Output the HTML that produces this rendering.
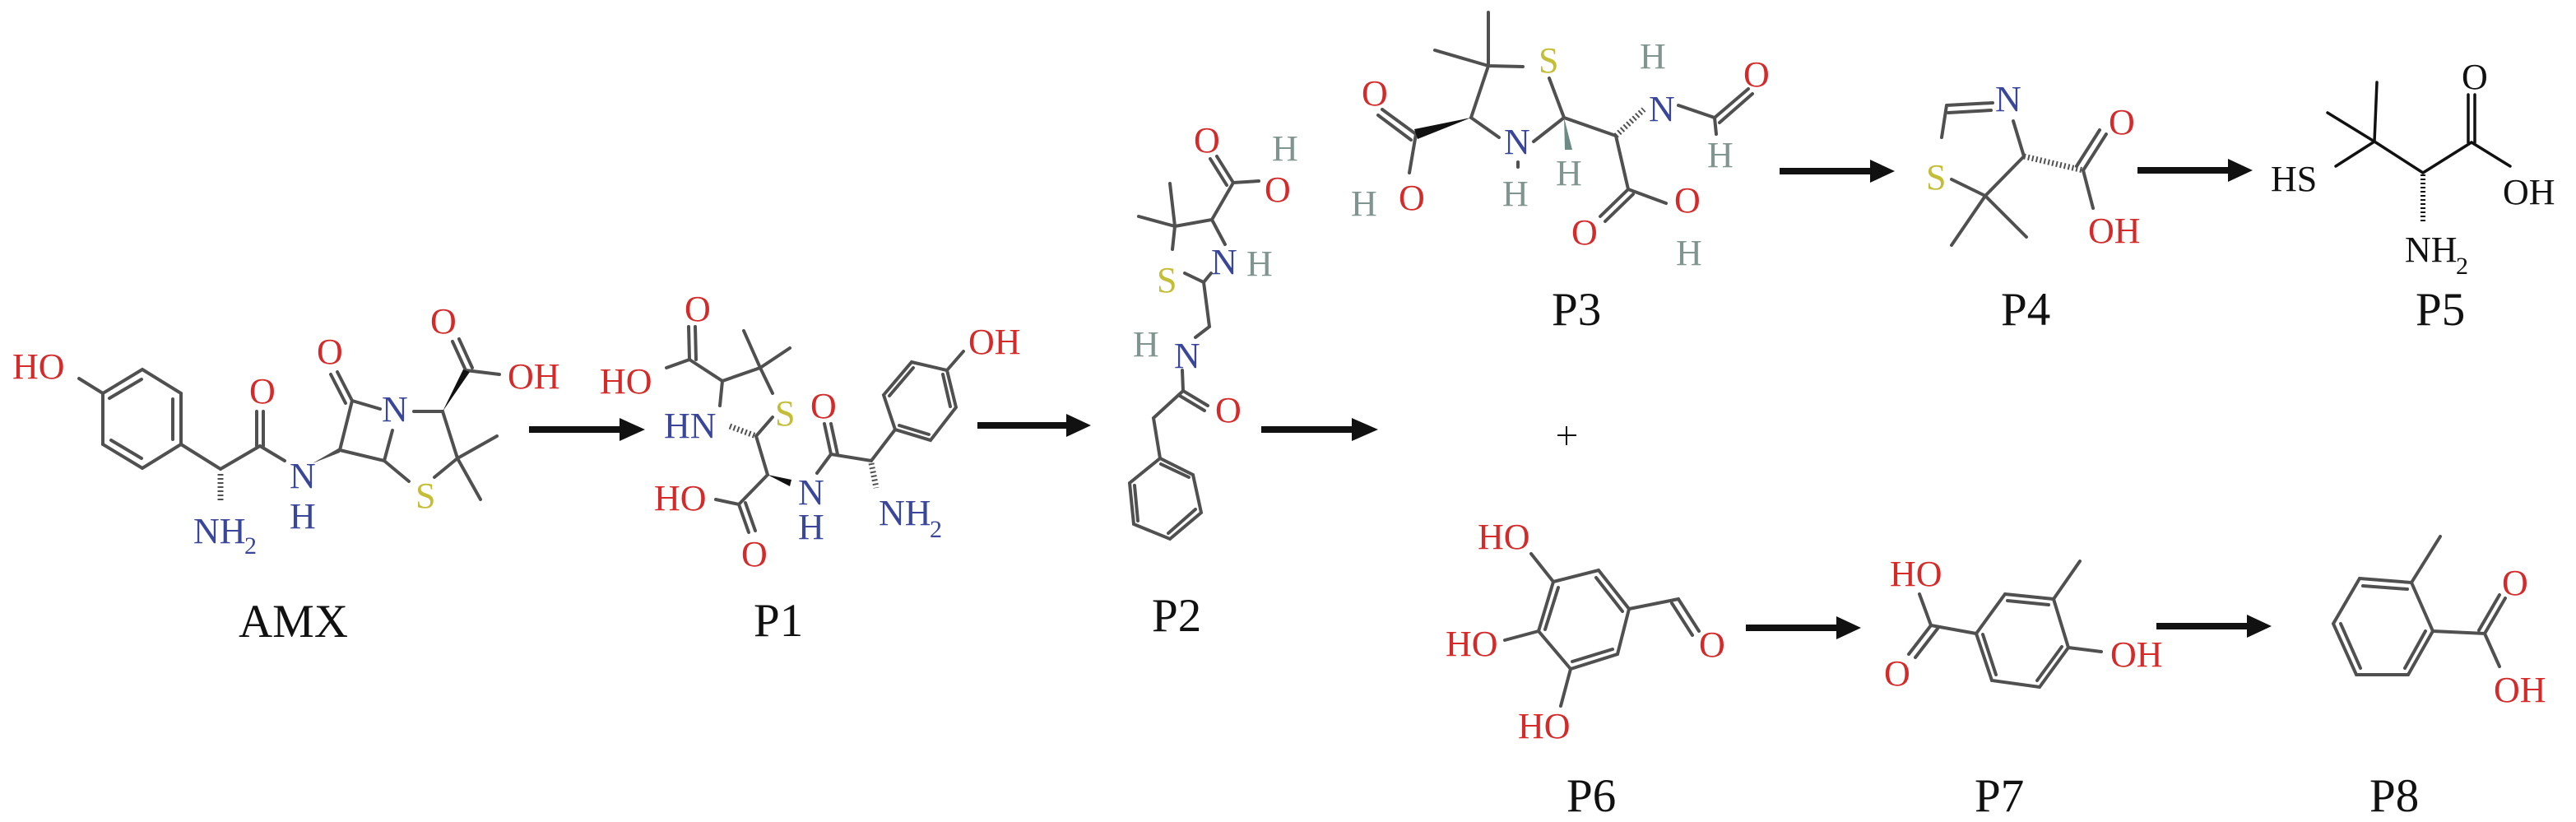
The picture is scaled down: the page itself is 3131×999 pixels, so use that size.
<!DOCTYPE html>
<html><head><meta charset="utf-8"><style>
html,body{margin:0;padding:0;background:#fff}
svg{display:block}
.b{stroke:#505050;stroke-width:4;stroke-linecap:round;fill:none}
.k{stroke:#111;stroke-width:3.5;stroke-linecap:round;fill:none}
.hs{stroke:#505050;stroke-width:7;stroke-dasharray:2 3;fill:none}
text{font-family:"Liberation Serif",serif;font-size:44px}
.r{fill:#d42a2a}.n{fill:#39469a}.s{fill:#c4bd36}.h{fill:#819590}.bl{fill:#111}
.lb{font-size:57px;fill:#111}
.sub{font-size:30px}
</style></head><body>
<svg width="3131" height="999" viewBox="0 0 3131 999" xmlns="http://www.w3.org/2000/svg">
<!-- arrows -->
<g fill="#111">
<rect x="643" y="518" width="112" height="8"/><polygon points="753,508 784,522 753,536"/>
<rect x="1188" y="513" width="110" height="8"/><polygon points="1296,503 1326,517 1296,531"/>
<rect x="1533" y="518" width="112" height="8"/><polygon points="1643,508 1675,522 1643,536"/>
<rect x="2163" y="204" width="112" height="8"/><polygon points="2273,194 2303,208 2273,222"/>
<rect x="2598" y="203" width="112" height="8"/><polygon points="2708,193 2738,207 2708,221"/>
<rect x="2122" y="759" width="112" height="8"/><polygon points="2232,749 2262,763 2232,777"/>
<rect x="2621" y="757" width="112" height="8"/><polygon points="2731,747 2761,761 2731,775"/>
</g>
<line x1="1893" y1="529" x2="1916" y2="529" stroke="#111" stroke-width="2"/>
<line x1="1904" y1="518" x2="1904" y2="541" stroke="#111" stroke-width="2"/>

<!-- AMX -->
<polygon class="b" points="173,449 220,478 220,540 173,569 125,540 125,478"/>
<path class="b" d="M133,484L172,461M210,485L210,534M172,557L135,535"/>
<path class="b" d="M125,478L96,460M220,540L268,570L316,542M312,542L312,500M320,542L320,500M316,542L346,560M413,547L428,487M428,487L410,452M420,490L402,455M428,487L462,497M413,547L467,560L477,523M467,560L497,585M503,500L538,500L556,557L528,580M556,557L604,530M556,557L584,607M566,450L550,415M574,447L558,412M566,450L607,455"/>
<line class="hs" x1="268" y1="576" x2="268" y2="610" stroke="#5a6ab0"/>
<polygon points="380,563 413,544 413,550" fill="#505050"/>
<polygon points="538,500 563,449 571,452" fill="#111"/>
<text x="15" y="460" class="r">HO</text>
<text x="235" y="660" class="n">NH</text><text x="297" y="673" class="n sub">2</text>
<text x="303" y="490" class="r">O</text>
<text x="352" y="593" class="n">N</text><text x="352" y="642" class="n">H</text>
<text x="385" y="442" class="r">O</text>
<text x="464" y="512" class="n">N</text>
<text x="505" y="617" class="s">S</text>
<text x="523" y="405" class="r">O</text>
<text x="617" y="472" class="r">OH</text>
<text x="290" y="774" class="lb">AMX</text>

<!-- P1 -->
<path class="b" d="M838,437L837,397M846,437L845,397M838,437L810,447M838,437L878,463L924,447M924,447L904,402M924,447L960,423M924,447L939,478M878,463L875,493M939,507L919,530L933,577M933,577L898,613L870,607M898,613L910,647M906,611L918,645M993,575L1010,552M1010,552L1002,515M1018,552L1010,515M1010,552L1059,560L1088,522M1151,450L1171,427"/>
<polygon class="b" points="1088,522 1074,480 1108,440 1151,450 1162,495 1131,535"/>
<path class="b" d="M1081,481L1110,447M1146,455L1155,494M1129,528L1093,517"/>
<line class="hs" x1="887" y1="518" x2="919" y2="530"/>
<line class="hs" x1="1059" y1="563" x2="1065" y2="593"/>
<polygon points="933,577 962,583 960,591" fill="#111"/>
<text x="832" y="390" class="r">O</text>
<text x="729" y="478" class="r">HO</text>
<text x="942" y="517" class="s">S</text>
<text x="807" y="532" class="n">HN</text>
<text x="795" y="620" class="r">HO</text>
<text x="901" y="688" class="r">O</text>
<text x="970" y="613" class="n">N</text><text x="970" y="655" class="n">H</text>
<text x="985" y="508" class="r">O</text>
<text x="1068" y="638" class="n">NH</text><text x="1130" y="653" class="n sub">2</text>
<text x="1177" y="430" class="r">OH</text>
<text x="916" y="773" class="lb">P1</text>

<!-- P2 -->
<path class="b" d="M1499,222L1479,190M1491,225L1471,193M1499,222L1530,220M1499,222L1473,267L1428,275M1428,275L1422,223M1428,275L1384,263M1428,275L1425,303M1473,267L1489,297M1440,332L1463,343L1472,332M1463,343L1470,397L1453,410M1437,450L1438,475L1468,493M1434,481L1464,499M1438,475L1402,508L1410,557"/>
<polygon class="b" points="1410,557 1450,577 1460,623 1422,655 1378,637 1373,587"/>
<path class="b" d="M1411,564L1445,580M1453,619L1420,648M1383,633L1379,590"/>
<text x="1451" y="185" class="r">O</text>
<text x="1546" y="195" class="h">H</text>
<text x="1537" y="245" class="r">O</text>
<text x="1406" y="355" class="s">S</text>
<text x="1472" y="333" class="n">N</text><text x="1515" y="335" class="h">H</text>
<text x="1427" y="447" class="n">N</text><text x="1377" y="433" class="h">H</text>
<text x="1477" y="513" class="r">O</text>
<text x="1400" y="767" class="lb">P2</text>

<!-- P3 -->
<path class="b" d="M1809,80L1809,15M1809,80L1744,61M1809,80L1851,81M1883,95L1901,143M1809,80L1788,143L1822,167M1864,172L1901,143M1845,197L1845,203M1721,163L1680,133M1715,170L1675,140M1721,163L1713,210M1901,143L1964,165M2040,128L2084,143L2125,108M2090,149L2130,114M2084,143L2086,163M1964,165L1979,230L1945,263M1985,236L1951,269M1979,230L2025,247"/>
<polygon points="1901,143 1902,182 1911,182" fill="#6d8a84"/>
<polygon points="1788,143 1719,157 1723,169" fill="#111"/>
<line class="hs" x1="1964" y1="165" x2="1998" y2="133" stroke="#5a6ab0"/>
<text x="1870" y="88" class="s">S</text>
<text x="1828" y="187" class="n">N</text><text x="1826" y="250" class="h">H</text>
<text x="1891" y="225" class="h">H</text>
<text x="1655" y="128" class="r">O</text>
<text x="1700" y="255" class="r">O</text><text x="1642" y="262" class="h">H</text>
<text x="2004" y="147" class="n">N</text><text x="1993" y="83" class="h">H</text>
<text x="2119" y="105" class="r">O</text>
<text x="2075" y="203" class="h">H</text>
<text x="1910" y="297" class="r">O</text>
<text x="2035" y="258" class="r">O</text><text x="2037" y="322" class="h">H</text>
<text x="1886" y="395" class="lb">P3</text>

<!-- P4 -->
<path class="b" d="M2366,128L2422,125M2368,137L2420,134M2447,147L2460,190L2413,238L2372,218M2360,167L2366,128M2413,238L2372,298M2413,238L2463,288M2532,207L2560,163M2524,202L2552,158M2532,207L2544,253"/>
<line class="hs" x1="2460" y1="190" x2="2532" y2="207"/>
<text x="2425" y="135" class="n">N</text>
<text x="2341" y="230" class="s">S</text>
<text x="2563" y="163" class="r">O</text>
<text x="2538" y="295" class="r">OH</text>
<text x="2432" y="395" class="lb">P4</text>

<!-- P5 -->
<path class="k" d="M2839,202L2886,172L2889,100M2886,172L2829,137M2886,172L2945,210L3004,173M3000,173L3000,115M3008,173L3008,115M3004,173L3051,202"/>
<line x1="2945" y1="212" x2="2945" y2="270" stroke="#111" stroke-width="6" stroke-dasharray="2 3"/>
<text x="2760" y="232" class="bl">HS</text>
<text x="2923" y="318" class="bl">NH</text><text x="2985" y="333" class="bl sub">2</text>
<text x="2992" y="108" class="bl">O</text>
<text x="3042" y="248" class="bl">OH</text>
<text x="2936" y="395" class="lb">P5</text>

<!-- P6 -->
<polygon class="b" points="1888,707 1943,693 1980,740 1966,795 1909,813 1870,767"/>
<path class="b" d="M1894,714L1878,765M1940,702L1972,743M1960,789L1911,804"/>
<path class="b" d="M1888,707L1861,673M1870,767L1829,778M1909,813L1897,858M1980,740L2040,728L2065,767M2032,733L2057,772"/>
<text x="1796" y="667" class="r">HO</text>
<text x="1757" y="797" class="r">HO</text>
<text x="1845" y="897" class="r">HO</text>
<text x="2065" y="798" class="r">O</text>
<text x="1904" y="986" class="lb">P6</text>

<!-- P7 -->
<polygon class="b" points="2402,770 2437,722 2496,728 2514,787 2479,835 2421,827"/>
<path class="b" d="M2440,730L2490,735M2506,786L2476,827M2426,820L2410,771"/>
<path class="b" d="M2333,722L2347,760L2320,795M2355,764L2328,799M2347,760L2402,770M2496,728L2528,682M2514,787L2554,792"/>
<text x="2297" y="712" class="r">HO</text>
<text x="2290" y="833" class="r">O</text>
<text x="2565" y="810" class="r">OH</text>
<text x="2400" y="986" class="lb">P7</text>

<!-- P8 -->
<polygon class="b" points="2868,703 2931,708 2957,767 2927,820 2864,820 2836,758"/>
<path class="b" d="M2872,712L2926,716M2948,767L2923,812M2869,812L2845,758"/>
<path class="b" d="M2931,708L2966,652M2957,767L3020,770L3045,727M3013,766L3038,723M3020,770L3038,810"/>
<text x="3041" y="723" class="r">O</text>
<text x="3031" y="853" class="r">OH</text>
<text x="2880" y="986" class="lb">P8</text>
</svg>
</body></html>
